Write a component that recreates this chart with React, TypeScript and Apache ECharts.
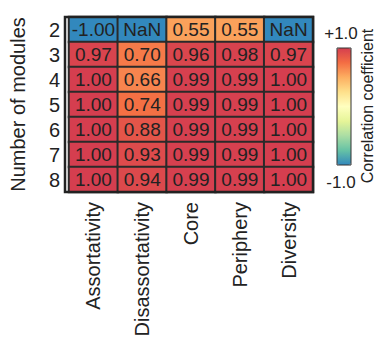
import React, { useEffect, useRef } from "react";
import * as echarts from "echarts";

const metrics = ["Assortativity", "Disassortativity", "Core", "Periphery", "Diversity"];
const modules = ["2", "3", "4", "5", "6", "7", "8"];
// rows = modules, columns = metrics
const assortativity = [-1.0, 0.97, 1.0, 1.0, 1.0, 1.0, 1.0];
const disassortativity = [NaN, 0.7, 0.66, 0.74, 0.88, 0.93, 0.94];
const core = [0.55, 0.96, 0.99, 0.99, 0.99, 0.99, 0.99];
const periphery = [0.55, 0.98, 0.99, 0.99, 0.99, 0.99, 0.99];
const diversity = [NaN, 0.97, 1.0, 1.0, 1.0, 1.0, 1.0];
const columns = [assortativity, disassortativity, core, periphery, diversity];
const colorbarLabels = ["+1.0", "-1.0"];

const spectral = ["#3288bd", "#66c2a5", "#abdda4", "#e6f598", "#ffffbf", "#fee08b", "#fdae61", "#f46d43", "#d53e4f"];

export default function App() {
  const ref = useRef<HTMLDivElement>(null);
  useEffect(() => {
    document.body.style.margin = "0";
    const chart = echarts.init(ref.current!, null, { renderer: "svg" });
    const data: any[] = [];
    columns.forEach((col, xi) => {
      col.forEach((v, yi) => {
        const nan = Number.isNaN(v);
        data.push({
          value: [xi, yi, nan ? -1 : v],
          label: { formatter: nan ? "NaN" : v.toFixed(2) },
        });
      });
    });
    const font = "Liberation Sans, Arial, sans-serif";
    chart.setOption({
      animation: false,
      textStyle: { fontFamily: font },
      grid: { left: 65, right: 64, top: 17, bottom: 159 },
      xAxis: {
        type: "category",
        data: metrics,
        axisLine: { show: false },
        axisTick: { show: false },
        splitLine: { show: false },
        axisLabel: { rotate: 90, fontSize: 20, color: "#222", margin: 10, interval: 0, fontFamily: font },
      },
      yAxis: {
        type: "category",
        data: modules,
        inverse: true,
        axisLine: { show: false },
        axisTick: { show: false },
        splitLine: { show: false },
        axisLabel: { fontSize: 20, color: "#222", margin: 9, interval: 0, fontFamily: font },
        name: "Number of modules",
        nameLocation: "middle",
        nameRotate: 90,
        nameGap: 41,
        nameTextStyle: { fontSize: 20, color: "#222", fontFamily: font },
      },
      visualMap: {
        type: "continuous",
        min: -1,
        max: 1,
        calculable: false,
        orient: "vertical",
        left: 337,
        top: 48,
        padding: 0,
        itemWidth: 14,
        itemHeight: 117,
        text: null,
        inRange: { color: spectral },
      },
      graphic: [
        {
          type: "text",
          x: 367,
          y: 106,
          rotation: Math.PI / 2,
          style: {
            text: "Correlation coefficient",
            fontSize: 16,
            fill: "#222",
            fontFamily: font,
            align: "center",
            verticalAlign: "middle",
          },
        },
        {
          type: "text",
          x: 341,
          y: 33,
          style: { text: colorbarLabels[0], fontSize: 17, fill: "#222", fontFamily: font, align: "center", verticalAlign: "middle" },
        },
        {
          type: "text",
          x: 341,
          y: 182,
          style: { text: colorbarLabels[1], fontSize: 17, fill: "#222", fontFamily: font, align: "center", verticalAlign: "middle" },
        },
        {
          type: "rect",
          shape: { x: 337, y: 48, width: 14, height: 117 },
          style: { fill: "none", stroke: "#333", lineWidth: 1 },
          z: 100,
        },
        {
          type: "rect",
          shape: { x: 65, y: 17, width: 248, height: 175 },
          style: { fill: "none", stroke: "#222", lineWidth: 2.5 },
          z: 100,
        },
      ],
      series: [
        {
          type: "heatmap",
          data,
          itemStyle: { borderColor: "#2a2a2a", borderWidth: 2 },
          label: { show: true, fontSize: 19, color: "#222", fontFamily: font },
        },
      ],
    });
    return () => chart.dispose();
  }, []);
  return <div ref={ref} style={{ width: 377, height: 351 }} />;
}
